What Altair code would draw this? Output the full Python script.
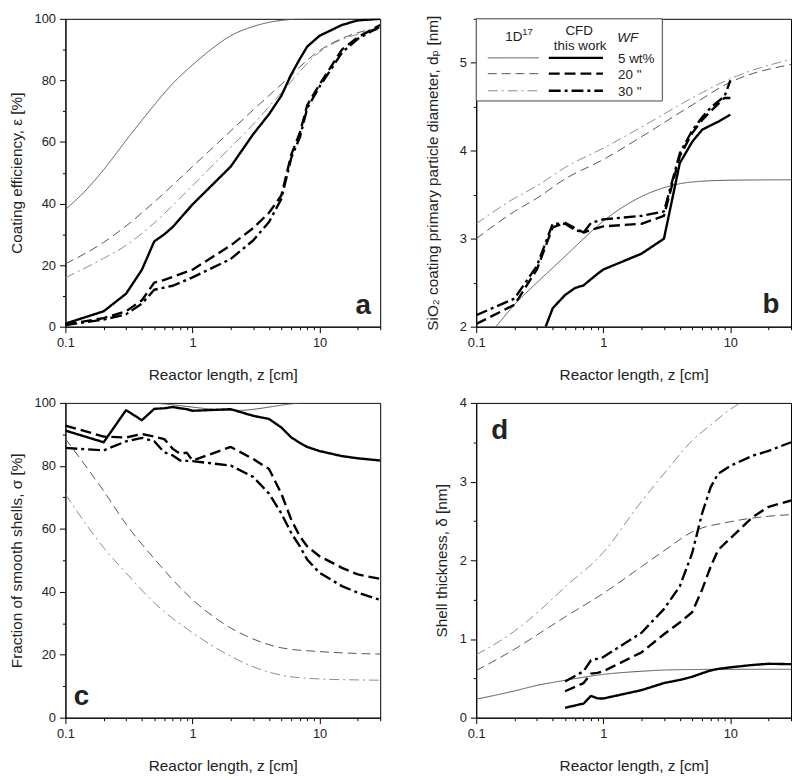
import altair as alt
import pandas as pd

FONT = "Liberation Sans, Arial, DejaVu Sans, sans-serif"
INK = "#222222"

SERIES = ["1D 5 wt%", "1D 20 wt%", "1D 30 wt%", "CFD 5 wt%", "CFD 20 wt%", "CFD 30 wt%"]
SERIES_COLORS = ["#555555", "#555555", "#8c8c8c", "#000000", "#000000", "#000000"]
SERIES_DASHES = [[1, 0], [9, 5], [10, 4, 2, 4], [1, 0], [11, 5], [12, 4, 3, 4]]

X_TICKS = [0.1, 0.2, 0.3, 0.4, 0.5, 0.6, 0.7, 0.8, 0.9, 1, 2, 3, 4, 5, 6, 7, 8, 9, 10, 20, 30]
X_TITLE = "Reactor length, z [cm]"

# ---------------- panel a : coating efficiency [%]
a_z_1d5 = [0.1, 0.15, 0.2, 0.3, 0.5, 0.7, 1, 1.5, 2, 3, 5, 7, 10, 20, 30]
a_1d5 = [38, 45, 51, 60.5, 72, 79, 85, 91, 94.5, 97.5, 99.5, 99.9, 100, 100, 100]
a_z_1d = [0.1, 0.2, 0.3, 0.5, 1, 2, 3, 5, 10, 20, 30]
a_1d20 = [20.4, 27.4, 32.7, 40.5, 52, 63.6, 70.4, 78.7, 89.7, 95.5, 97]
a_1d30 = [15.9, 22.2, 26.4, 33.7, 45.8, 58.3, 65.7, 76, 89.2, 95, 96.5]
a_z_cfd = [0.1, 0.2, 0.3, 0.4, 0.5, 0.6, 0.7, 1, 2, 3, 4, 5, 6, 7, 8, 10, 15, 20, 30]
a_cfd5 = [1, 5, 10.7, 18.5, 27.7, 30, 32.4, 39.7, 52, 62.5, 69, 75, 82, 87, 91, 94.5, 98, 99.5, 100]
a_cfd20 = [0.7, 2.8, 5, 8.6, 14.3, 15.2, 16.2, 18.5, 26.4, 32, 37, 42.6, 56, 63, 72, 78.7, 90, 94, 98]
a_cfd30 = [0.5, 2.3, 4, 7.5, 12, 12.7, 13.3, 16, 22, 28, 34, 41.5, 55, 61.5, 71, 78, 89, 93.5, 97.5]

# ---------------- panel b : primary particle diameter [nm]
b_z_1d5 = [0.143, 0.2, 0.3, 0.5, 0.7, 1, 1.5, 2, 3, 5, 10, 30]
b_1d5 = [2.0, 2.25, 2.5, 2.8, 3.0, 3.2, 3.38, 3.48, 3.58, 3.645, 3.665, 3.67]
b_z_1d = [0.1, 0.2, 0.3, 0.5, 1, 2, 5, 10, 30]
b_1d20 = [3.0, 3.31, 3.46, 3.68, 3.9, 4.16, 4.52, 4.78, 4.98]
b_1d30 = [3.17, 3.46, 3.6, 3.81, 4.03, 4.27, 4.6, 4.82, 5.04]
b_z_cfd5 = [0.352, 0.4, 0.5, 0.6, 0.7, 0.8, 0.9, 1, 2, 3, 4, 5, 6, 8, 10]
b_cfd5 = [2.0, 2.21, 2.36, 2.44, 2.47, 2.54, 2.6, 2.65, 2.83, 3.0, 3.86, 4.1, 4.24, 4.33, 4.41]
b_z_cfd = [0.1, 0.2, 0.3, 0.4, 0.5, 0.6, 0.7, 0.8, 1, 2, 3, 4, 5, 6, 7, 8, 9, 10]
b_cfd20 = [2.03, 2.25, 2.65, 3.13, 3.18, 3.12, 3.07, 3.1, 3.14, 3.17, 3.26, 3.94, 4.2, 4.35, 4.45, 4.53, 4.6, 4.6]
b_cfd30 = [2.13, 2.32, 2.69, 3.17, 3.17, 3.1, 3.07, 3.18, 3.22, 3.26, 3.31, 3.97, 4.23, 4.38, 4.49, 4.56, 4.62, 4.8]

# ---------------- panel c : fraction of smooth shells [%]
c_z_1d5 = [0.1, 0.4, 2.2, 8, 30]
c_1d5 = [100, 100, 97.6, 100, 100]
c_z_1d = [0.1, 0.2, 0.3, 0.5, 1, 2, 3, 5, 10, 20, 30]
c_1d20 = [88.6, 72, 61.5, 50.5, 37.5, 28.5, 25, 22.2, 21, 20.4, 20.2]
c_1d30 = [71, 54, 46, 36.5, 27, 19.5, 16.2, 13.5, 12.3, 12, 11.9]
c_z_cfd = [0.1, 0.2, 0.3, 0.4, 0.5, 0.6, 0.7, 0.8, 0.9, 1, 2, 3, 4, 5, 6, 7, 8, 10, 15, 20, 30]
c_cfd5 = [91.2, 87.5, 97.7, 94.5, 98.1, 98.3, 98.7, 98.3, 98, 97.5, 98, 95.9, 94.9, 92.2, 89, 87.3, 86, 84.7, 83.1, 82.4, 81.7]
c_cfd20 = [92.8, 89.3, 89, 90.1, 89.3, 88.5, 85.4, 83.8, 84.2, 81.7, 86, 82.2, 79, 71.2, 62.8, 57.6, 54.4, 51.3, 47.6, 45.5, 44.1]
c_cfd30 = [85.7, 84.9, 87.8, 88.9, 87.8, 84.3, 83.3, 81.7, 81.6, 81.5, 80.1, 76.5, 71.2, 64.9, 58.6, 54.4, 50.2, 46, 41.8, 39.7, 37.4]

# ---------------- panel d : shell thickness [nm]
d_z_1d5 = [0.1, 0.2, 0.3, 0.5, 1, 2, 3, 5, 10, 30]
d_1d5 = [0.235, 0.34, 0.41, 0.475, 0.55, 0.59, 0.605, 0.612, 0.615, 0.615]
d_z_1d20 = [0.1, 0.2, 0.3, 0.5, 1, 2, 3, 5, 10, 20, 30]
d_1d20 = [0.6, 0.87, 1.05, 1.28, 1.58, 1.92, 2.12, 2.36, 2.49, 2.56, 2.58]
d_z_1d30 = [0.1, 0.2, 0.3, 0.5, 1, 2, 3, 5, 7, 10, 12, 20, 30]
d_1d30 = [0.8, 1.1, 1.33, 1.66, 2.1, 2.75, 3.1, 3.52, 3.72, 3.92, 4.0, 4.2, 4.3]
d_z_cfd = [0.5, 0.7, 0.8, 0.9, 1, 2, 3, 4, 5, 6, 7, 8, 10, 15, 20, 30]
d_cfd5 = [0.126, 0.18, 0.277, 0.245, 0.244, 0.35, 0.44, 0.48, 0.52, 0.565, 0.6, 0.62, 0.64, 0.67, 0.685, 0.68]
d_cfd20 = [0.336, 0.44, 0.56, 0.57, 0.59, 0.83, 1.06, 1.21, 1.34, 1.63, 1.92, 2.13, 2.28, 2.55, 2.68, 2.76]
d_cfd30 = [0.46, 0.59, 0.73, 0.75, 0.77, 1.08, 1.38, 1.67, 2.09, 2.6, 2.93, 3.1, 3.2, 3.33, 3.39, 3.5]

LEGEND_ROWS = ["5 wt%", "20 \"", "30 \""]

ONE = pd.DataFrame({"k": [0]})
W = 318
H_TOP = 311
H_BOT = 318


def frame(parts):
    return pd.concat([pd.DataFrame({"z": z, "v": v, "s": s}) for z, v, s in parts], ignore_index=True)


def text(label, x, y, size=14, align="left", baseline="middle", weight="normal", style="normal"):
    return alt.Chart(ONE).mark_text(
        text=label, align=align, baseline=baseline, font=FONT, fontSize=size,
        fontWeight=weight, fontStyle=style, color=INK,
    ).encode(x=alt.value(x), y=alt.value(y))


def panel(one_d, cfd, y_domain, y_ticks, y_major, y_title, y_title_pad, height, extras, thin_interp="monotone"):
    major_x = "abs(log(datum.value)/LN10 - round(log(datum.value)/LN10)) < 0.001"
    x_axis = alt.Axis(
        values=X_TICKS, title=X_TITLE,
        labelExpr=f"({major_x}) ? format(datum.value, '~g') : ''",
        tickSize={"condition": {"test": major_x, "value": 6}, "value": 3},
        labelFlush=False, labelOverlap=False, titlePadding=18, labelPadding=4, grid=False,
    )
    major_y = f"abs(datum.value/{y_major} - round(datum.value/{y_major})) < 0.001"
    y_axis = alt.Axis(
        values=y_ticks, title=y_title,
        labelExpr=f"({major_y}) ? format(datum.value, '~g') : ''",
        tickSize={"condition": {"test": major_y, "value": 6}, "value": 3},
        labelOverlap=False, titlePadding=y_title_pad, labelPadding=4, grid=False,
    )
    x = alt.X("z:Q", scale=alt.Scale(type="log", domain=[0.1, 30], nice=False), axis=x_axis)
    y = alt.Y("v:Q", scale=alt.Scale(domain=y_domain, nice=False, zero=False), axis=y_axis)
    color = alt.Color("s:N", scale=alt.Scale(domain=SERIES, range=SERIES_COLORS), legend=None)
    dash = alt.StrokeDash("s:N", scale=alt.Scale(domain=SERIES, range=SERIES_DASHES), legend=None)
    thin = alt.Chart(frame(one_d)).mark_line(strokeWidth=1, interpolate="monotone", clip=True).encode(
        x=x, y=y, color=color, strokeDash=dash, detail="s:N")
    thick = alt.Chart(frame(cfd)).mark_line(strokeWidth=2.4, clip=True, strokeJoin="round").encode(
        x=x, y=y, color=color, strokeDash=dash, detail="s:N")
    return alt.layer(thin, thick, *extras).properties(width=W, height=height)


# legend for panel b (drawn inside the plot area, top-left)
legend_box = alt.Chart(ONE).mark_rect(fill="white", stroke="#444444", strokeWidth=1).encode(
    x=alt.value(0), x2=alt.value(188), y=alt.value(0), y2=alt.value(83))
legend_layers = [legend_box,
                 text("1D", 29.3, 18.6, size=13.5), text("17", 46.5, 13.5, size=9.5),
                 text("CFD", 104, 12, align="center", size=13.5),
                 text("this work", 105, 27.5, align="center", size=13.5),
                 text("WF", 153, 19.4, align="center", style="italic", size=13.5)]
row_y = [39.4, 55.4, 72.7]
for i, lab in enumerate(LEGEND_ROWS):
    legend_layers.append(alt.Chart(ONE).mark_rule(
        color=SERIES_COLORS[i], strokeWidth=1, strokeDash=SERIES_DASHES[i]).encode(
        x=alt.value(11.7), x2=alt.value(63.3), y=alt.value(row_y[i])))
    legend_layers.append(alt.Chart(ONE).mark_rule(
        color=SERIES_COLORS[i + 3], strokeWidth=2.4, strokeDash=SERIES_DASHES[i + 3]).encode(
        x=alt.value(73.3), x2=alt.value(128), y=alt.value(row_y[i])))
    legend_layers.append(text(lab, 143.3, row_y[i] + 1, size=13.5))

pa = panel(
    [(a_z_1d5, a_1d5, SERIES[0]), (a_z_1d, a_1d20, SERIES[1]), (a_z_1d, a_1d30, SERIES[2])],
    [(a_z_cfd, a_cfd5, SERIES[3]), (a_z_cfd, a_cfd20, SERIES[4]), (a_z_cfd, a_cfd30, SERIES[5])],
    [0, 100], list(range(0, 101, 10)), 20, "Coating efficiency, ε [%]", 10, H_TOP,
    [text("a", 308.7, H_TOP - 12.7, size=28, align="right", baseline="alphabetic", weight="bold")])

pb = panel(
    [(b_z_1d5, b_1d5, SERIES[0]), (b_z_1d, b_1d20, SERIES[1]), (b_z_1d, b_1d30, SERIES[2])],
    [(b_z_cfd5, b_cfd5, SERIES[3]), (b_z_cfd, b_cfd20, SERIES[4]), (b_z_cfd, b_cfd30, SERIES[5])],
    [2, 5.5], [2, 2.5, 3, 3.5, 4, 4.5, 5, 5.5], 1,
    "SiO₂ coating primary particle diameter, dₚ [nm]", 19, H_TOP,
    legend_layers + [text("b", 306.3, H_TOP - 14, size=28, align="right", baseline="alphabetic", weight="bold")])

pc = panel(
    [(c_z_1d5, c_1d5, SERIES[0]), (c_z_1d, c_1d20, SERIES[1]), (c_z_1d, c_1d30, SERIES[2])],
    [(c_z_cfd, c_cfd5, SERIES[3]), (c_z_cfd, c_cfd20, SERIES[4]), (c_z_cfd, c_cfd30, SERIES[5])],
    [0, 100], list(range(0, 101, 10)), 20, "Fraction of smooth shells, σ [%]", 10, H_BOT,
    [text("c", 8.4, 304.7, size=28, align="left", baseline="alphabetic", weight="bold")])

pd_ = panel(
    [(d_z_1d5, d_1d5, SERIES[0]), (d_z_1d20, d_1d20, SERIES[1]), (d_z_1d30, d_1d30, SERIES[2])],
    [(d_z_cfd, d_cfd5, SERIES[3]), (d_z_cfd, d_cfd20, SERIES[4]), (d_z_cfd, d_cfd30, SERIES[5])],
    [0, 4], [0, 0.5, 1, 1.5, 2, 2.5, 3, 3.5, 4], 1, "Shell thickness, δ [nm]", 10, H_BOT,
    [text("d", 15.3, 36.7, size=28, align="left", baseline="alphabetic", weight="bold")])

chart = alt.concat(pa, pb, pc, pd_, columns=2, spacing={"row": 13, "column": 44}).properties(
    padding={"left": 0, "top": 0, "right": 0, "bottom": 0}
).configure_view(
    stroke="black", strokeWidth=1
).configure_axis(
    labelFont=FONT, labelFontSize=13, labelColor=INK,
    titleFont=FONT, titleFontSize=15.5, titleFontWeight="normal", titleColor=INK,
    domainColor="black", tickColor="black", domainWidth=1, tickWidth=1,
)

chart.save("out.html", embed_options={"renderer": "svg", "actions": False})
